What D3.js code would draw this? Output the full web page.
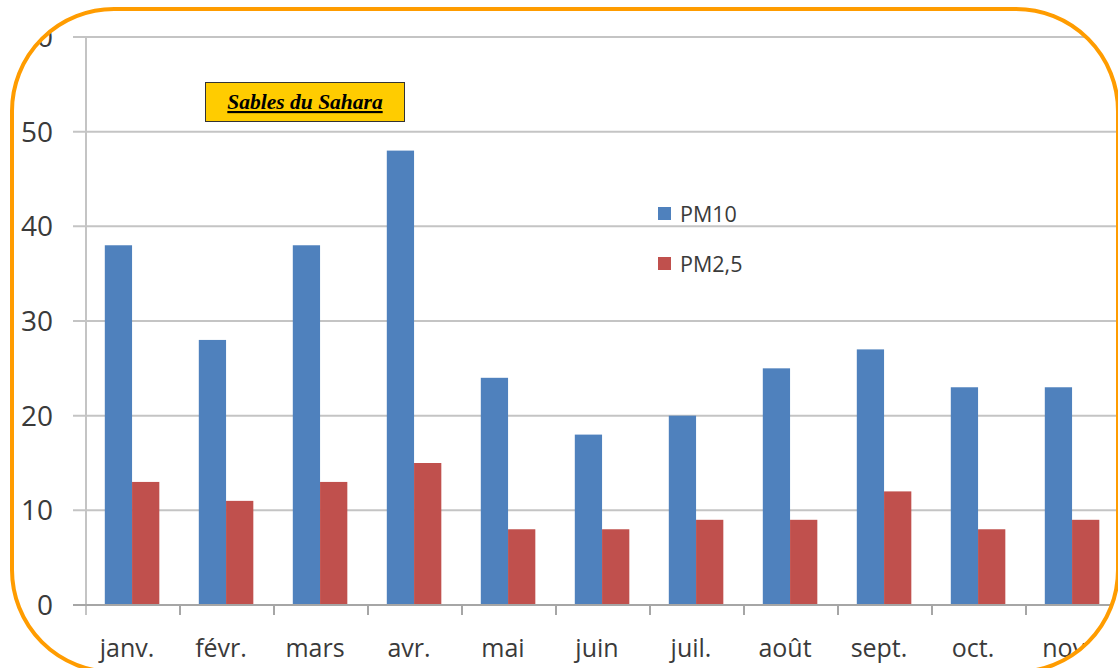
<!DOCTYPE html>
<html lang="fr">
<head>
    <meta charset="UTF-8">
    <title>Sables du Sahara</title>
    <script src="https://cdnjs.cloudflare.com/ajax/libs/d3/7.8.5/d3.min.js"></script>
    <style>
        body {
            margin: 0;
            overflow: hidden;
            background: #fff;
            font-family: "Open Sans", "Noto Sans", sans-serif;
        }
    </style>
</head>
<body>
    <script>
        const months = ['janv.', 'févr.', 'mars', 'avr.', 'mai', 'juin', 'juil.', 'août', 'sept.', 'oct.', 'nov.'];
        const pm10 = [38, 28, 38, 48, 24, 18, 20, 25, 27, 23, 23];
        const pm25 = [13, 11, 13, 15, 8, 8, 9, 9, 12, 8, 9];
        const seriesNames = ['PM10', 'PM2,5'];
        const seriesColors = ['#4f81bd', '#c0504d'];
        const yTicks = [0, 10, 20, 30, 40, 50, 60];

        const width = 1118;
        const height = 668;

        const svg = d3.select('body')
            .append('svg')
            .attr('width', width)
            .attr('height', height);

        // rounded frame, content clipped to it
        const frame = { x: 12, y: 9, w: 1106, h: 663, r: 102 };
        svg.append('clipPath').attr('id', 'frame-clip')
            .append('rect')
            .attr('x', frame.x).attr('y', frame.y)
            .attr('width', frame.w).attr('height', frame.h)
            .attr('rx', frame.r).attr('ry', frame.r);

        const g = svg.append('g').attr('clip-path', 'url(#frame-clip)');

        const x0 = d3.scaleBand()
            .domain(months)
            .range([86, 86 + months.length * 94.0]);

        const x1 = d3.scaleBand()
            .domain(seriesNames)
            .range([x0.bandwidth() * 0.2, x0.bandwidth() * 0.78]);

        const y = d3.scaleLinear()
            .domain([0, 60])
            .range([605, 37]);

        // gridlines
        g.selectAll('.grid')
            .data(yTicks.filter(d => d > 0))
            .enter()
            .append('line')
            .attr('x1', 73)
            .attr('x2', width)
            .attr('y1', d => y(d))
            .attr('y2', d => y(d))
            .attr('stroke', '#c4c4c4')
            .attr('stroke-width', 2);

        // y axis line
        g.append('line')
            .attr('x1', 86).attr('x2', 86)
            .attr('y1', y(60)).attr('y2', 615)
            .attr('stroke', '#c4c4c4').attr('stroke-width', 2);

        g.selectAll('.ylab')
            .data(yTicks)
            .enter()
            .append('text')
            .attr('x', 53)
            .attr('y', d => y(d) + 10)
            .attr('text-anchor', 'end')
            .attr('font-size', 28)
            .attr('fill', '#3a3a3a')
            .text(d => d);

        // bars
        const groups = g.selectAll('.month')
            .data(months)
            .enter()
            .append('g')
            .attr('transform', d => `translate(${x0(d)},0)`);

        groups.selectAll('rect')
            .data((d, i) => [pm10[i], pm25[i]].map((v, j) => ({ key: seriesNames[j], value: v, color: seriesColors[j] })))
            .enter()
            .append('rect')
            .attr('x', d => x1(d.key))
            .attr('y', d => y(d.value))
            .attr('width', x1.bandwidth())
            .attr('height', d => y(0) - y(d.value))
            .attr('fill', d => d.color);

        // x axis
        g.append('line')
            .attr('x1', 73).attr('x2', width)
            .attr('y1', y(0)).attr('y2', y(0))
            .attr('stroke', '#a6a6a6').attr('stroke-width', 2);

        g.selectAll('.xtick')
            .data(months)
            .enter()
            .append('line')
            .attr('x1', d => x0(d) + x0.bandwidth())
            .attr('x2', d => x0(d) + x0.bandwidth())
            .attr('y1', y(0))
            .attr('y2', y(0) + 10)
            .attr('stroke', '#a6a6a6')
            .attr('stroke-width', 2);

        g.selectAll('.xlab')
            .data(months)
            .enter()
            .append('text')
            .attr('x', d => x0(d) + x0.bandwidth() / 2 - 6)
            .attr('y', 657)
            .attr('text-anchor', 'middle')
            .attr('font-size', 25)
            .attr('fill', '#3a3a3a')
            .text(d => d);

        // legend
        const legend = g.selectAll('.legend')
            .data(seriesNames)
            .enter()
            .append('g')
            .attr('transform', (d, i) => `translate(658,${207 + i * 50})`);

        legend.append('rect')
            .attr('width', 13).attr('height', 13)
            .attr('fill', (d, i) => seriesColors[i]);

        legend.append('text')
            .attr('x', 22)
            .attr('y', 15)
            .attr('font-size', 21.5)
            .attr('fill', '#3a3a3a')
            .text(d => d);

        // title box
        g.append('rect')
            .attr('x', 205.5).attr('y', 82.5)
            .attr('width', 199).attr('height', 39)
            .attr('fill', '#ffcc00')
            .attr('stroke', '#333')
            .attr('stroke-width', 1);

        g.append('text')
            .attr('x', 305)
            .attr('y', 109)
            .attr('text-anchor', 'middle')
            .attr('font-family', '"Liberation Serif", "DejaVu Serif", serif')
            .attr('font-style', 'italic')
            .attr('font-weight', 'bold')
            .attr('font-size', 21.5)
            .attr('text-decoration', 'underline')
            .attr('fill', '#000')
            .text('Sables du Sahara');

        // orange frame
        svg.append('rect')
            .attr('x', frame.x).attr('y', frame.y)
            .attr('width', frame.w).attr('height', frame.h)
            .attr('rx', frame.r).attr('ry', frame.r)
            .attr('fill', 'none')
            .attr('stroke', '#ff9c00')
            .attr('stroke-width', 4);
    </script>
</body>
</html>
